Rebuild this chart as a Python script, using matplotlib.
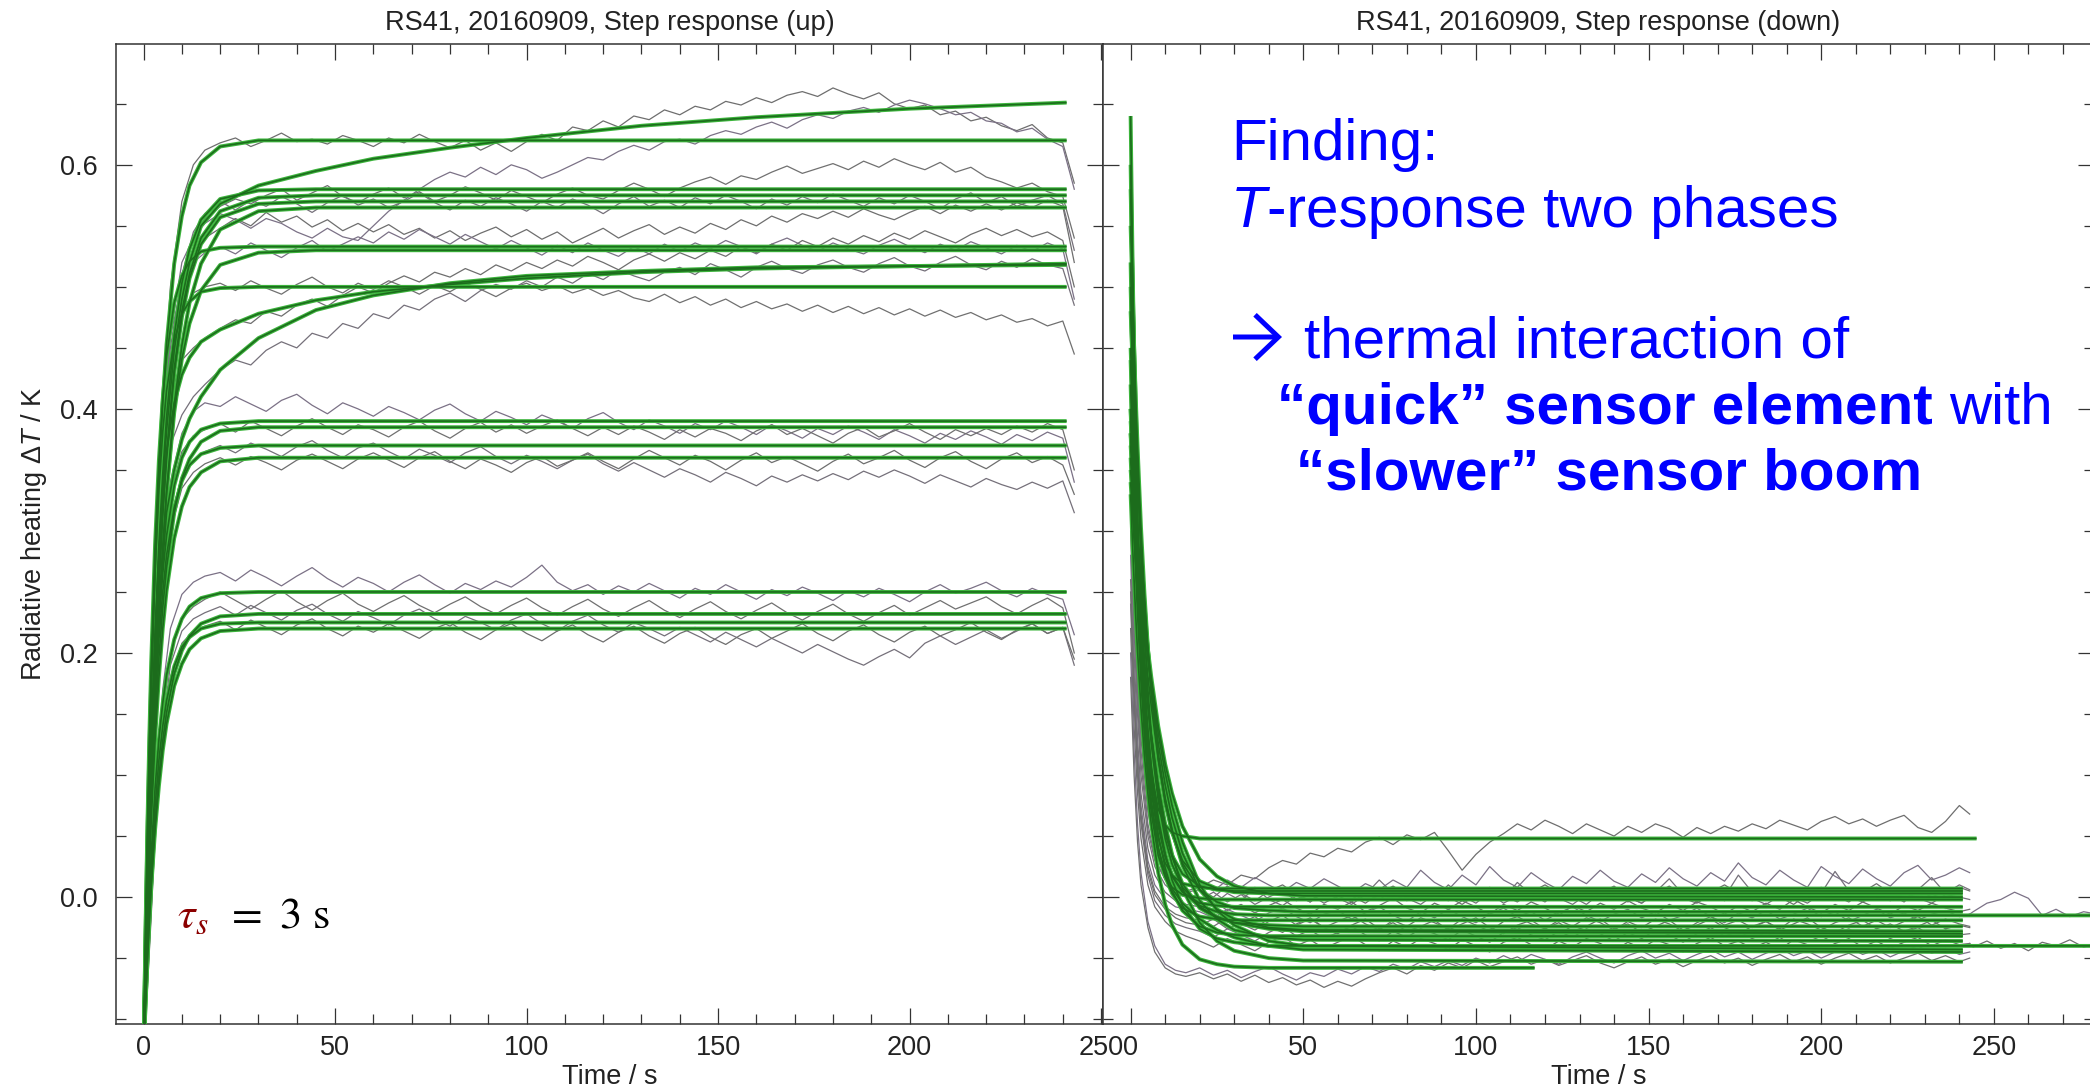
import numpy as np
import matplotlib
matplotlib.use("Agg")
import matplotlib.pyplot as plt
from matplotlib.ticker import MultipleLocator, FormatStrFormatter
from matplotlib.patches import FancyArrowPatch

plt.rcParams['font.family'] = ['Liberation Sans', 'DejaVu Sans']
plt.rcParams['mathtext.fontset'] = 'custom'
plt.rcParams['mathtext.rm'] = 'Liberation Sans'
plt.rcParams['mathtext.it'] = 'Liberation Sans:italic'
plt.rcParams['mathtext.bf'] = 'Liberation Sans:bold'

# ---------------- data (values in mK) ----------------
titles = ["RS41, 20160909, Step response (up)", "RS41, 20160909, Step response (down)"]
x_label = "Time / s"
y_label = "Radiative heating Δ$\\mathit{T}$ / K"
x_ticks = [0, 50, 100, 150, 200, 250]
y_ticks = [0.0, 0.2, 0.4, 0.6]

# time grid of the measured traces
t_trace = [0, 1, 2, 3, 5, 7, 10, 13, 16,
           20, 24, 28, 32, 36, 40, 44, 48, 52, 56,
           60, 64, 68, 72, 76, 80, 84, 88, 92, 96,
           100, 104, 108, 112, 116, 120, 124, 128, 132, 136,
           140, 144, 148, 152, 156, 160, 164, 168, 172, 176,
           180, 184, 188, 192, 196, 200, 204, 208, 212, 216,
           220, 224, 228, 232, 236, 240, 243]
t_ext = [244, 248, 252, 256, 260, 264, 268, 272, 276, 280]

# time grid of the fitted curves (step up)
t_fit_up = [0, 0.5, 1, 1.5, 2, 3, 4, 5, 6, 8, 10, 12, 15, 20, 30, 45, 60, 80, 100, 130, 160, 200, 241]
# time grid of the fitted curves (step down), last point = end time of each fit
t_fit_dn = [0, 0.5, 1, 1.5, 2, 3, 4, 5, 6, 8, 10, 12, 15, 20, 25, 30, 40, 50]

# ---- step up: fitted curves
fit_up_01 = [-130, -42, 36, 105, 165, 266, 344, 405, 453, 519, 558, 583, 602, 615, 620, 620, 620, 620, 620, 620, 620, 620, 620]
fit_up_02 = [-130, -55, 12, 71, 125, 215, 288, 346, 393, 460, 503, 531, 555, 572, 579, 580, 580, 580, 580, 580, 580, 580, 580]
fit_up_03 = [-130, -63, -2, 53, 102, 188, 258, 316, 363, 433, 480, 511, 540, 562, 573, 575, 575, 575, 575, 575, 575, 575, 575]
fit_up_04 = [-130, -63, -3, 51, 101, 186, 255, 312, 359, 429, 475, 507, 535, 557, 568, 570, 570, 570, 570, 570, 570, 570, 570]
fit_up_05 = [-130, -70, -14, 36, 82, 162, 229, 285, 332, 403, 452, 487, 519, 547, 562, 565, 565, 565, 565, 565, 565, 565, 565]
fit_up_06 = [-130, -28, 58, 131, 193, 289, 358, 408, 443, 487, 509, 521, 529, 532, 533, 533, 533, 533, 533, 533, 533, 533, 533]
fit_up_07 = [-130, -67, -10, 41, 88, 168, 233, 287, 331, 397, 441, 470, 497, 518, 528, 530, 530, 530, 530, 530, 530, 530, 530]
fit_up_08 = [-130, -33, 49, 118, 177, 268, 334, 381, 415, 456, 478, 488, 496, 499, 500, 500, 500, 500, 500, 500, 500, 500, 500]
fit_up_09 = [-130, -61, -1, 51, 96, 169, 224, 265, 296, 337, 360, 373, 383, 388, 390, 390, 390, 390, 390, 390, 390, 390, 390]
fit_up_10 = [-130, -69, -16, 31, 73, 142, 196, 237, 270, 315, 343, 359, 373, 382, 385, 385, 385, 385, 385, 385, 385, 385, 385]
fit_up_11 = [-130, -63, -6, 44, 88, 158, 211, 250, 280, 319, 341, 354, 363, 368, 370, 370, 370, 370, 370, 370, 370, 370, 370]
fit_up_12 = [-130, -72, -22, 23, 63, 129, 180, 220, 251, 294, 320, 336, 348, 357, 360, 360, 360, 360, 360, 360, 360, 360, 360]
fit_up_13 = [-130, -79, -36, 2, 35, 89, 129, 159, 182, 211, 228, 238, 245, 249, 250, 250, 250, 250, 250, 250, 250, 250, 250]
fit_up_14 = [-130, -87, -50, -17, 12, 61, 99, 128, 151, 183, 202, 214, 224, 230, 232, 232, 232, 232, 232, 232, 232, 232, 232]
fit_up_15 = [-130, -83, -42, -6, 25, 74, 112, 140, 161, 189, 205, 213, 220, 224, 225, 225, 225, 225, 225, 225, 225, 225, 225]
fit_up_16 = [-130, -89, -53, -21, 8, 55, 91, 120, 142, 173, 191, 203, 212, 218, 220, 220, 220, 220, 220, 220, 220, 220, 220]
fit_up_17 = [-130, -57, 9, 67, 119, 208, 279, 336, 382, 448, 490, 520, 550, 568, 583, 595, 605, 614, 622, 632, 639, 646, 651]
fit_up_18 = [-130, -59, 2, 55, 101, 175, 231, 273, 315, 350, 375, 392, 410, 432, 458, 481, 493, 503, 509, 513, 516, 517, 518]
fit_up_19 = [-130, -50, 20, 80, 132, 215, 280, 330, 365, 405, 428, 442, 455, 465, 478, 489, 496, 502, 507, 512, 515, 517, 519]

# ---- step up: measured traces
trace_up_01 = [-100, 20, 150, 260, 400, 500, 570, 600, 612,
               618, 622, 615, 620, 626, 619, 621, 617, 624, 620,
               615, 622, 618, 625, 619, 614, 620, 612, 618, 611,
               619, 625, 620, 631, 628, 636, 631, 640, 637, 645,
               641, 648, 645, 652, 649, 655, 651, 657, 660, 656,
               663, 658, 654, 659, 650, 646, 649, 641, 644, 636,
               639, 632, 628, 633, 622, 618, 585]
trace_up_02 = [-100, 10, 130, 230, 370, 460, 520, 540, 552,
               560, 555, 548, 556, 552, 545, 540, 548, 541, 538,
               550, 562, 571, 580, 588, 594, 590, 598, 592, 600,
               596, 589, 594, 600, 606, 604, 611, 616, 612, 619,
               621, 617, 624, 628, 625, 631, 635, 630, 637, 641,
               638, 644, 647, 643, 649, 653, 650, 646, 641, 643,
               636, 634, 627, 630, 621, 615, 580]
trace_up_03 = [-100, -10, 110, 210, 350, 440, 505, 540, 556,
               566, 572, 568, 575, 580, 571, 577, 583, 574, 569,
               576, 581, 573, 578, 570, 575, 582, 577, 571, 579,
               574, 569, 576, 581, 575, 572, 579, 585, 580, 574,
               581, 586, 590, 584, 591, 588, 594, 599, 593, 597,
               601, 596, 603, 598, 605, 600, 596, 602, 594, 598,
               590, 586, 581, 585, 578, 574, 540]
trace_up_04 = [-100, 0, 120, 220, 360, 450, 510, 545, 560,
               570, 563, 571, 566, 574, 568, 561, 569, 575, 567,
               572, 565, 570, 577, 569, 563, 571, 566, 573, 568,
               562, 570, 565, 572, 567, 560, 568, 574, 566, 571,
               565, 573, 568, 575, 570, 564, 572, 567, 574, 569,
               576, 571, 566, 573, 568, 575, 570, 564, 572, 577,
               569, 574, 566, 571, 575, 568, 530]
trace_up_05 = [-100, -20, 100, 200, 340, 430, 490, 525, 540,
               548, 556, 550, 561, 553, 558, 549, 555, 546, 552,
               545, 551, 543, 548, 540, 546, 538, 544, 549, 541,
               547, 539, 545, 536, 542, 548, 540, 546, 551, 543,
               549, 544, 552, 547, 555, 550, 558, 553, 560, 556,
               562, 557, 564, 559, 555, 561, 566, 560, 567, 562,
               568, 563, 569, 565, 571, 566, 520]
trace_up_06 = [-100, 30, 160, 270, 390, 460, 500, 520, 528,
               533, 527, 536, 530, 524, 532, 538, 529, 535, 541,
               536, 545, 539, 547, 541, 535, 543, 537, 531, 538,
               532, 526, 534, 528, 536, 530, 525, 533, 527, 535,
               529, 536, 531, 538, 533, 527, 535, 540, 534, 529,
               536, 531, 527, 534, 539, 533, 528, 535, 530, 537,
               532, 527, 534, 529, 536, 531, 490]
trace_up_07 = [-100, 30, 170, 270, 380, 440, 480, 495, 500,
               503, 497, 505, 499, 494, 502, 508, 500, 495, 503,
               498, 505, 500, 494, 501, 496, 503, 498, 492, 499,
               503, 497, 501, 495, 499, 493, 497, 491, 488, 494,
               487, 492, 485, 490, 483, 488, 482, 486, 480, 485,
               479, 484, 478, 483, 477, 482, 476, 481, 475, 479,
               473, 477, 471, 474, 468, 472, 445]
trace_up_08 = [-100, 0, 120, 210, 320, 370, 395, 410, 420,
               432, 440, 436, 448, 455, 450, 462, 458, 470, 466,
               478, 474, 485, 481, 490, 495, 488, 497, 502, 498,
               505, 500, 508, 503, 511, 506, 514, 509, 505, 512,
               516, 510, 519, 514, 508, 516, 521, 515, 511, 518,
               522, 516, 512, 519, 524, 517, 513, 520, 525, 518,
               514, 521, 516, 523, 518, 515, 485]
trace_up_09 = [-100, 20, 150, 250, 360, 410, 440, 450, 458,
               466, 473, 470, 480, 476, 485, 490, 484, 493, 500,
               495, 503, 509, 504, 512, 508, 515, 510, 518, 513,
               520, 515, 522, 517, 525, 520, 514, 522, 527, 521,
               528, 523, 530, 525, 533, 528, 535, 530, 538, 533,
               540, 535, 542, 537, 544, 539, 546, 541, 536, 543,
               548, 542, 547, 541, 545, 538, 500]
trace_up_10 = [-100, -30, 80, 170, 280, 340, 380, 398, 405,
               402, 410, 404, 398, 407, 412, 403, 396, 405, 400,
               394, 402, 397, 391, 399, 404, 396, 390, 398, 393,
               387, 395, 390, 384, 392, 397, 389, 383, 391, 386,
               380, 388, 383, 390, 385, 379, 387, 382, 376, 384,
               379, 386, 381, 375, 383, 378, 372, 380, 375, 382,
               377, 371, 379, 374, 381, 376, 340]
trace_up_11 = [-100, -40, 70, 160, 270, 330, 365, 378, 383,
               388, 381, 390, 384, 378, 386, 392, 385, 379, 387,
               383, 377, 385, 390, 382, 376, 384, 389, 381, 387,
               380, 386, 391, 384, 378, 385, 379, 386, 381, 375,
               383, 377, 384, 380, 374, 382, 387, 379, 384, 378,
               372, 380, 385, 377, 382, 388, 381, 375, 383, 378,
               384, 379, 386, 381, 388, 383, 350]
trace_up_12 = [-100, -40, 60, 150, 255, 310, 345, 358, 365,
               370, 364, 372, 367, 361, 369, 374, 366, 360, 368,
               372, 365, 359, 367, 362, 356, 364, 369, 361, 355,
               362, 357, 351, 358, 363, 355, 349, 356, 350, 344,
               351, 346, 340, 348, 343, 337, 345, 340, 346, 341,
               347, 342, 349, 344, 350, 345, 339, 346, 341, 336,
               343, 338, 334, 340, 335, 341, 315]
trace_up_13 = [-100, -50, 50, 140, 245, 300, 335, 348, 355,
               360, 354, 361, 356, 350, 358, 363, 357, 351, 359,
               364, 358, 352, 360, 365, 357, 351, 359, 354, 348,
               356, 361, 353, 358, 364, 357, 351, 359, 366, 360,
               354, 362, 357, 350, 358, 364, 356, 361, 355, 349,
               357, 363, 355, 360, 366, 358, 352, 360, 365, 357,
               351, 359, 364, 356, 361, 354, 330]
trace_up_14 = [-100, -60, 10, 80, 170, 220, 248, 258, 263,
               266, 259, 268, 262, 255, 263, 270, 261, 254, 262,
               257, 250, 258, 264, 256, 249, 257, 252, 259, 254,
               262, 272, 258, 251, 256, 248, 255, 250, 257, 251,
               245, 253, 248, 256, 250, 244, 252, 247, 254, 249,
               243, 251, 246, 253, 248, 242, 250, 256, 249, 253,
               258, 251, 246, 253, 248, 244, 215]
trace_up_15 = [-100, -70, 0, 65, 150, 200, 228, 238, 244,
               250, 243, 236, 244, 251, 242, 235, 243, 249, 240,
               234, 241, 247, 239, 233, 240, 246, 238, 232, 239,
               245, 237, 231, 238, 244, 236, 230, 237, 243, 235,
               229, 236, 242, 234, 228, 235, 241, 233, 227, 234,
               240, 232, 226, 233, 239, 231, 237, 243, 236, 241,
               246, 238, 232, 239, 245, 237, 200]
trace_up_16 = [-100, -70, -10, 55, 140, 190, 218, 228, 233,
               238, 231, 239, 233, 227, 235, 240, 232, 226, 234,
               229, 223, 231, 236, 228, 222, 230, 225, 219, 227,
               232, 224, 218, 226, 231, 223, 217, 225, 220, 214,
               221, 215, 209, 217, 211, 205, 212, 206, 200, 207,
               201, 195, 190, 197, 203, 196, 208, 214, 207, 213,
               219, 212, 218, 224, 216, 221, 190]
trace_up_17 = [-100, -75, -15, 50, 130, 180, 208, 218, 222,
               226, 219, 227, 221, 215, 223, 228, 220, 214, 222,
               217, 224, 218, 212, 220, 225, 217, 211, 219, 224,
               216, 210, 218, 223, 215, 209, 217, 222, 214, 208,
               216, 221, 213, 207, 215, 220, 212, 218, 224, 216,
               210, 218, 223, 215, 209, 217, 222, 214, 219, 225,
               217, 211, 219, 224, 216, 221, 195]

# ---- step down: fitted curves (18 grid values + value at end time)
fit_dn_01 = [640, 533, 445, 373, 314, 226, 168, 128, 102, 72, 59, 53, 50, 48, 48, 48, 48, 48, 48]
fit_dn_02 = [600, 509, 432, 367, 311, 225, 163, 119, 87, 48, 28, 18, 11, 8, 7, 7, 7, 7, 7]
fit_dn_03 = [580, 512, 453, 400, 354, 277, 217, 170, 133, 83, 52, 34, 19, 9, 6, 5, 5, 5, 5]
fit_dn_04 = [550, 498, 451, 408, 370, 303, 249, 204, 168, 113, 77, 53, 30, 13, 7, 4, 3, 3, 3]
fit_dn_05 = [520, 440, 372, 315, 266, 190, 136, 97, 69, 34, 17, 8, 2, -1, -2, -2, -2, -2, -2]
fit_dn_06 = [500, 440, 388, 341, 300, 232, 179, 138, 105, 61, 34, 17, 4, -5, -7, -8, -8, -8, -8]
fit_dn_07 = [480, 441, 404, 371, 341, 286, 241, 202, 169, 118, 81, 55, 28, 6, -4, -9, -11, -12, -12]
fit_dn_08 = [450, 406, 366, 329, 297, 240, 194, 156, 125, 79, 48, 27, 8, -7, -12, -14, -15, -15, -15]
fit_dn_09 = [420, 368, 323, 283, 247, 188, 143, 107, 79, 40, 17, 3, -9, -16, -18, -19, -19, -19, -19]
fit_dn_10 = [400, 366, 335, 306, 280, 233, 194, 160, 132, 88, 56, 33, 11, -9, -17, -21, -23, -24, -24]
fit_dn_11 = [390, 365, 341, 319, 298, 259, 226, 196, 169, 126, 92, 65, 36, 6, -10, -18, -25, -27, -28]
fit_dn_12 = [380, 341, 305, 273, 244, 194, 153, 120, 92, 51, 24, 5, -11, -24, -29, -31, -32, -32, -32]
fit_dn_13 = [370, 345, 322, 301, 280, 243, 210, 181, 156, 113, 80, 55, 26, -3, -18, -27, -33, -35, -36]
fit_dn_14 = [360, 328, 299, 272, 247, 203, 165, 134, 107, 65, 36, 14, -7, -26, -34, -37, -40, -40, -40]
fit_dn_15 = [350, 331, 313, 295, 279, 248, 220, 195, 173, 134, 102, 75, 45, 10, -11, -23, -36, -40, -43]
fit_dn_16 = [340, 316, 294, 273, 253, 217, 185, 157, 133, 92, 60, 35, 7, -21, -36, -44, -50, -52, -53]
fit_dn_17 = [330, 293, 260, 229, 202, 155, 116, 85, 59, 20, -6, -23, -39, -51, -55, -57, -58, -58, -58]
fit_dn_18 = [380, 357, 335, 315, 296, 261, 230, 203, 180, 140, 109, 85, 58, 31, 17, 9, 3, 1, 0]
fit_dn_19 = [400, 350, 305, 265, 232, 176, 133, 100, 75, 40, 20, 7, -5, -18, -27, -33, -40, -43, -45]
fit_dn_20 = [440, 390, 345, 305, 270, 210, 163, 127, 98, 58, 33, 18, 5, -8, -16, -21, -26, -28, -30]
fit_dn_end = [245, 241, 241, 241, 241, 241, 241, 280, 241, 241, 241, 241, 241, 280, 241, 241, 117, 241, 241, 241]

# ---- step down: measured traces
trace_dn_01 = [380, 260, 180, 130, 70, 40, 20, 10, 5,
               8, 14, 10, 18, 15, 24, 30, 27, 36, 33,
               40, 37, 45, 49, 43, 51, 47, 53, 38, 22,
               35, 45, 52, 60, 55, 63, 58, 52, 60, 55,
               50, 58, 53, 60, 56, 49, 57, 52, 58, 54,
               60, 56, 63, 59, 55, 62, 66, 60, 64, 58,
               63, 67, 57, 53, 62, 75, 68]
trace_dn_02 = [420, 300, 200, 140, 80, 45, 25, 15, 10,
               12, 5, 14, 8, 16, 10, 4, 12, 7, 15,
               9, 3, 11, 6, 14, 8, 22, 12, 6, 18,
               10, 25, 14, 8, 20, 12, 6, 17, 11, 22,
               13, 8, 19, 12, 24, 15, 9, 20, 13, 28,
               16, 10, 22, 14, 8, 25, 17, 11, 23, 15,
               9, 20, 26, 14, 18, 24, 20]
trace_dn_03 = [350, 240, 160, 110, 55, 30, 15, 8, 4,
               6, 0, 9, 3, -3, 5, 10, 2, -4, 4,
               8, 1, -5, 3, 9, 2, -3, 6, 0, -6,
               2, 8, 1, -4, 4, 10, 3, -2, 5, -1,
               7, 0, -5, 3, 9, 2, -4, 4, 10, 3,
               -3, 5, 0, -6, 2, 8, 1, -4, 4, 11,
               3, -2, 6, 0, 5, 8, 5]
trace_dn_04 = [330, 220, 150, 100, 50, 25, 10, 3, 0,
               -2, 4, -4, 2, -6, 0, 5, -3, 2, -5,
               1, -4, 3, -2, 5, -1, -6, 2, -3, 4,
               -2, 3, -5, 1, -3, 4, -1, -6, 2, -2,
               3, -4, 1, -2, 5, -1, -5, 2, -3, 4,
               -1, -6, 1, -3, 3, -2, 5, 0, -4, 2,
               -3, 4, -1, -5, 2, 0, -2]
trace_dn_05 = [300, 200, 130, 85, 40, 18, 4, -3, -6,
               -8, -3, -11, -6, -13, -7, -2, -9, -14, -6,
               -10, -4, -12, -7, -1, -9, -13, -5, -10, -3,
               -8, -14, -6, -11, -4, -9, -15, -7, -12, -5,
               -10, -3, -9, -13, -6, -11, -4, -8, -14, -7,
               -12, -5, -10, -2, -8, -13, -6, -11, -4, -9,
               -14, -7, -11, -5, -9, -12, -10]
trace_dn_06 = [280, 185, 120, 75, 30, 10, -2, -8, -10,
               -12, -17, -10, -15, -20, -13, -9, -16, -21, -14,
               -11, -18, -13, -8, -15, -20, -12, -17, -10, -16,
               -21, -14, -9, -16, -12, -19, -13, -8, -15, -20,
               -14, -10, -17, -12, -19, -15, -9, -16, -21, -13,
               -17, -11, -18, -14, -9, -16, -12, -20, -15, -10,
               -17, -13, -19, -14, -11, -16, -14]
trace_dn_06_ext = [-12, -5, -2, 4, -1, -15, -10, -16, -12, -14]
trace_dn_07 = [260, 170, 110, 68, 25, 5, -8, -14, -17,
               -19, -24, -17, -22, -27, -20, -15, -23, -18, -25,
               -20, -15, -22, -27, -19, -24, -17, -21, -26, -18,
               -23, -28, -20, -16, -22, -26, -19, -24, -17, -21,
               -27, -20, -25, -18, -22, -28, -21, -16, -23, -19,
               -25, -20, -26, -18, -22, -27, -21, -17, -24, -19,
               -25, -20, -16, -23, -18, -22, -24]
trace_dn_08 = [240, 160, 100, 60, 18, -3, -15, -22, -25,
               -28, -33, -26, -31, -36, -29, -24, -32, -27, -34,
               -29, -24, -31, -36, -28, -33, -26, -30, -35, -27,
               -32, -37, -29, -25, -31, -35, -28, -33, -26, -30,
               -36, -29, -34, -27, -31, -37, -30, -25, -32, -28,
               -34, -29, -35, -27, -31, -36, -30, -26, -33, -28,
               -34, -29, -25, -32, -27, -31, -30]
trace_dn_09 = [220, 140, 85, 48, 10, -8, -20, -28, -32,
               -36, -41, -34, -39, -44, -37, -32, -40, -35, -42,
               -37, -32, -39, -44, -36, -41, -34, -38, -43, -35,
               -40, -45, -37, -33, -39, -43, -36, -41, -34, -38,
               -44, -37, -42, -35, -39, -45, -38, -33, -40, -36,
               -42, -37, -43, -35, -39, -44, -38, -34, -41, -36,
               -42, -37, -33, -40, -35, -39, -38]
trace_dn_09_ext = [-41, -36, -42, -38, -44, -37, -40, -35, -41, -38]
trace_dn_10 = [200, 120, 60, 20, -20, -40, -55, -60, -62,
               -58, -64, -60, -66, -61, -57, -63, -68, -62, -65,
               -59, -63, -57, -61, -55, -59, -53, -57, -52, -56,
               -50, -54, -48, -53, -47, -51, -55, -49, -45, -50,
               -54, -48, -44, -50, -46, -52, -47, -43, -49, -45,
               -51, -46, -42, -48, -44, -50, -45, -41, -47, -43,
               -49, -44, -40, -46, -42, -47, -45]
trace_dn_11 = [180, 100, 45, 10, -25, -45, -58, -63, -65,
               -62, -67, -63, -69, -64, -70, -66, -72, -68, -74,
               -69, -73, -67, -62, -58, -63, -56, -60, -54, -58,
               -52, -57, -53, -49, -55, -51, -56, -52, -48, -54,
               -58, -53, -49, -55, -51, -57, -52, -48, -54, -50,
               -56, -51, -47, -53, -49, -55, -50, -46, -52, -48,
               -54, -50, -46, -52, -48, -53, -50]
trace_dn_12 = [360, 250, 170, 120, 60, 32, 14, 6, 2,
               0, -6, 3, -3, 8, -2, -7, 1, -4, 5,
               -1, -6, 2, 14, 3, -3, 6, -2, 10, 1,
               -5, 4, -1, 12, 2, -4, 5, 0, -6, 3,
               9, 0, -5, 4, 15, 2, -3, 6, 0, 18,
               4, -2, 7, 0, -5, 3, 21, 5, -1, 8,
               2, -4, 6, 16, 3, 10, 6]
trace_dn_13 = [250, 165, 105, 65, 22, 2, -10, -17, -21,
               -23, -18, -26, -21, -16, -24, -29, -22, -17, -25,
               -30, -23, -18, -26, -21, -28, -24, -19, -27, -22,
               -17, -25, -30, -23, -19, -26, -21, -28, -24, -18,
               -26, -22, -29, -24, -19, -27, -23, -18, -25, -30,
               -24, -20, -27, -22, -17, -25, -29, -23, -19, -26,
               -22, -28, -24, -19, -26, -23, -25]

# ---------------- figure ----------------
W, H = 2090, 1090
fig = plt.figure(figsize=(W / 100, H / 100), dpi=100)
ax1 = fig.add_axes([116 / W, 66 / H, (1103 - 116) / W, 980 / H])
ax2 = fig.add_axes([1103 / W, 66 / H, (2094 - 1103) / W, 980 / H])

gray_cols = ['#6e6e6e', '#7b7186', '#707070', '#75707a']
halo_col = '#3cb43c'
core_col = '#1c6c1c'

def draw_trace(ax, t, v, i):
    ax.plot(t, np.array(v) / 1000.0, color=gray_cols[i % 4], lw=0.9, zorder=2)

def draw_fit(ax, t, v):
    y = np.array(v) / 1000.0
    ax.plot(t, y, color=halo_col, lw=2.8, zorder=3, solid_capstyle='butt')
    ax.plot(t, y, color=core_col, lw=1.2, zorder=4, solid_capstyle='butt')

up_traces = [trace_up_01, trace_up_02, trace_up_03, trace_up_04, trace_up_05, trace_up_06,
             trace_up_07, trace_up_08, trace_up_09, trace_up_10, trace_up_11, trace_up_12,
             trace_up_13, trace_up_14, trace_up_15, trace_up_16, trace_up_17]
for i, tr in enumerate(up_traces):
    draw_trace(ax1, t_trace, tr, i)
up_fits = [fit_up_01, fit_up_02, fit_up_03, fit_up_04, fit_up_05, fit_up_06, fit_up_07,
           fit_up_08, fit_up_09, fit_up_10, fit_up_11, fit_up_12, fit_up_13, fit_up_14,
           fit_up_15, fit_up_16, fit_up_17, fit_up_18, fit_up_19]
for f in up_fits:
    draw_fit(ax1, t_fit_up, f)

dn_traces = [trace_dn_01, trace_dn_02, trace_dn_03, trace_dn_04, trace_dn_05, trace_dn_06,
             trace_dn_07, trace_dn_08, trace_dn_09, trace_dn_10, trace_dn_11, trace_dn_12,
             trace_dn_13]
for i, tr in enumerate(dn_traces):
    draw_trace(ax2, t_trace, tr, i)
draw_trace(ax2, [t_trace[-1]] + t_ext, [trace_dn_06[-1]] + trace_dn_06_ext, 1)
draw_trace(ax2, [t_trace[-1]] + t_ext, [trace_dn_09[-1]] + trace_dn_09_ext, 2)
dn_fits = [fit_dn_01, fit_dn_02, fit_dn_03, fit_dn_04, fit_dn_05, fit_dn_06, fit_dn_07,
           fit_dn_08, fit_dn_09, fit_dn_10, fit_dn_11, fit_dn_12, fit_dn_13, fit_dn_14,
           fit_dn_15, fit_dn_16, fit_dn_17, fit_dn_18, fit_dn_19, fit_dn_20]
for f, te in zip(dn_fits, fit_dn_end):
    draw_fit(ax2, t_fit_dn + [te], f)

FS = 19.5
for ax, ttl in zip([ax1, ax2], titles):
    ax.set_ylim(-0.104, 0.699)
    ax.xaxis.set_major_locator(MultipleLocator(50))
    ax.xaxis.set_minor_locator(MultipleLocator(10))
    ax.yaxis.set_major_locator(MultipleLocator(0.2))
    ax.yaxis.set_minor_locator(MultipleLocator(0.05))
    ax.yaxis.set_major_formatter(FormatStrFormatter('%.1f'))
    ax.tick_params(which='both', direction='in', top=True, right=True,
                   color='#333333', width=0.9, labelsize=FS, labelcolor='#222222')
    ax.tick_params(which='major', length=11.5)
    ax.tick_params(which='minor', length=7)
    ax.tick_params(axis='x', which='major', pad=8)
    ax.tick_params(axis='y', which='major', pad=13)
    for s in ax.spines.values():
        s.set_color('#333333')
        s.set_linewidth(1.1)
    ax.set_title(ttl, fontsize=FS, color='#222222', pad=10)
    ax.set_xlabel(x_label, fontsize=FS, color='#222222', labelpad=2)

ax1.set_xlim(-7.2, 250.5)
ax2.set_xlim(-8.0, 279.0)
ax1.set_xticks(x_ticks)
ax2.set_xticks(x_ticks)
ax1.set_yticks(y_ticks)
ax2.set_yticks(y_ticks)
ax2.tick_params(axis='y', labelleft=False)
ax1.set_ylabel(y_label, fontsize=FS, color='#222222', labelpad=8)

# ---------------- annotations ----------------
fig.canvas.draw()
rend = fig.canvas.get_renderer()

def width_px(s, **kw):
    t = fig.text(0, 0, s, **kw)
    w = t.get_window_extent(renderer=rend).width
    t.remove()
    return w

def chain(x_px, y_base_px, pieces):
    x = x_px
    for s, kw, gap in pieces:
        if gap:
            x += gap * (width_px('a a', **kw) - width_px('aa', **kw))
        t = fig.text(x / W, 1 - y_base_px / H, s, ha='left', va='baseline', **kw)
        x = t.get_window_extent(renderer=rend).x1

blue = dict(fontsize=42, color='#0000ff', family=['Liberation Sans', 'DejaVu Sans'])
blue_b = dict(blue, fontweight='bold')
blue_i = dict(blue, style='italic')

chain(1231, 160, [("Finding:", blue, False)])
chain(1231, 227, [("T", blue_i, False), ("-response two phases", blue, False)])
# arrow glyph drawn as a chevron arrow
arr = FancyArrowPatch(posA=(1233 / W, 1 - 337 / H), posB=(1282 / W, 1 - 337 / H),
                      transform=fig.transFigure, arrowstyle='->,head_length=0.42,head_width=0.4',
                      mutation_scale=40, lw=3.6, color='#0000ff', shrinkA=0, shrinkB=0,
                      capstyle='butt', joinstyle='miter')
fig.add_artist(arr)
chain(1304, 357, [("thermal interaction of", blue, False)])
chain(1277, 424, [("\u201cquick\u201d sensor element", blue_b, False), ("with", blue, 1)])
chain(1296, 489, [("\u201cslower\u201d sensor boom", blue_b, False)])

tau_kw = dict(fontsize=32, color='#8b0000', math_fontfamily='stix')
eq_kw = dict(fontsize=32, color='black', math_fontfamily='stix')
chain(177, 928, [(r"$\tau_s$", tau_kw, False), (r"$=\ 3\ \mathrm{s}$", eq_kw, 1.3)])

fig.savefig("out.png", dpi=100)
